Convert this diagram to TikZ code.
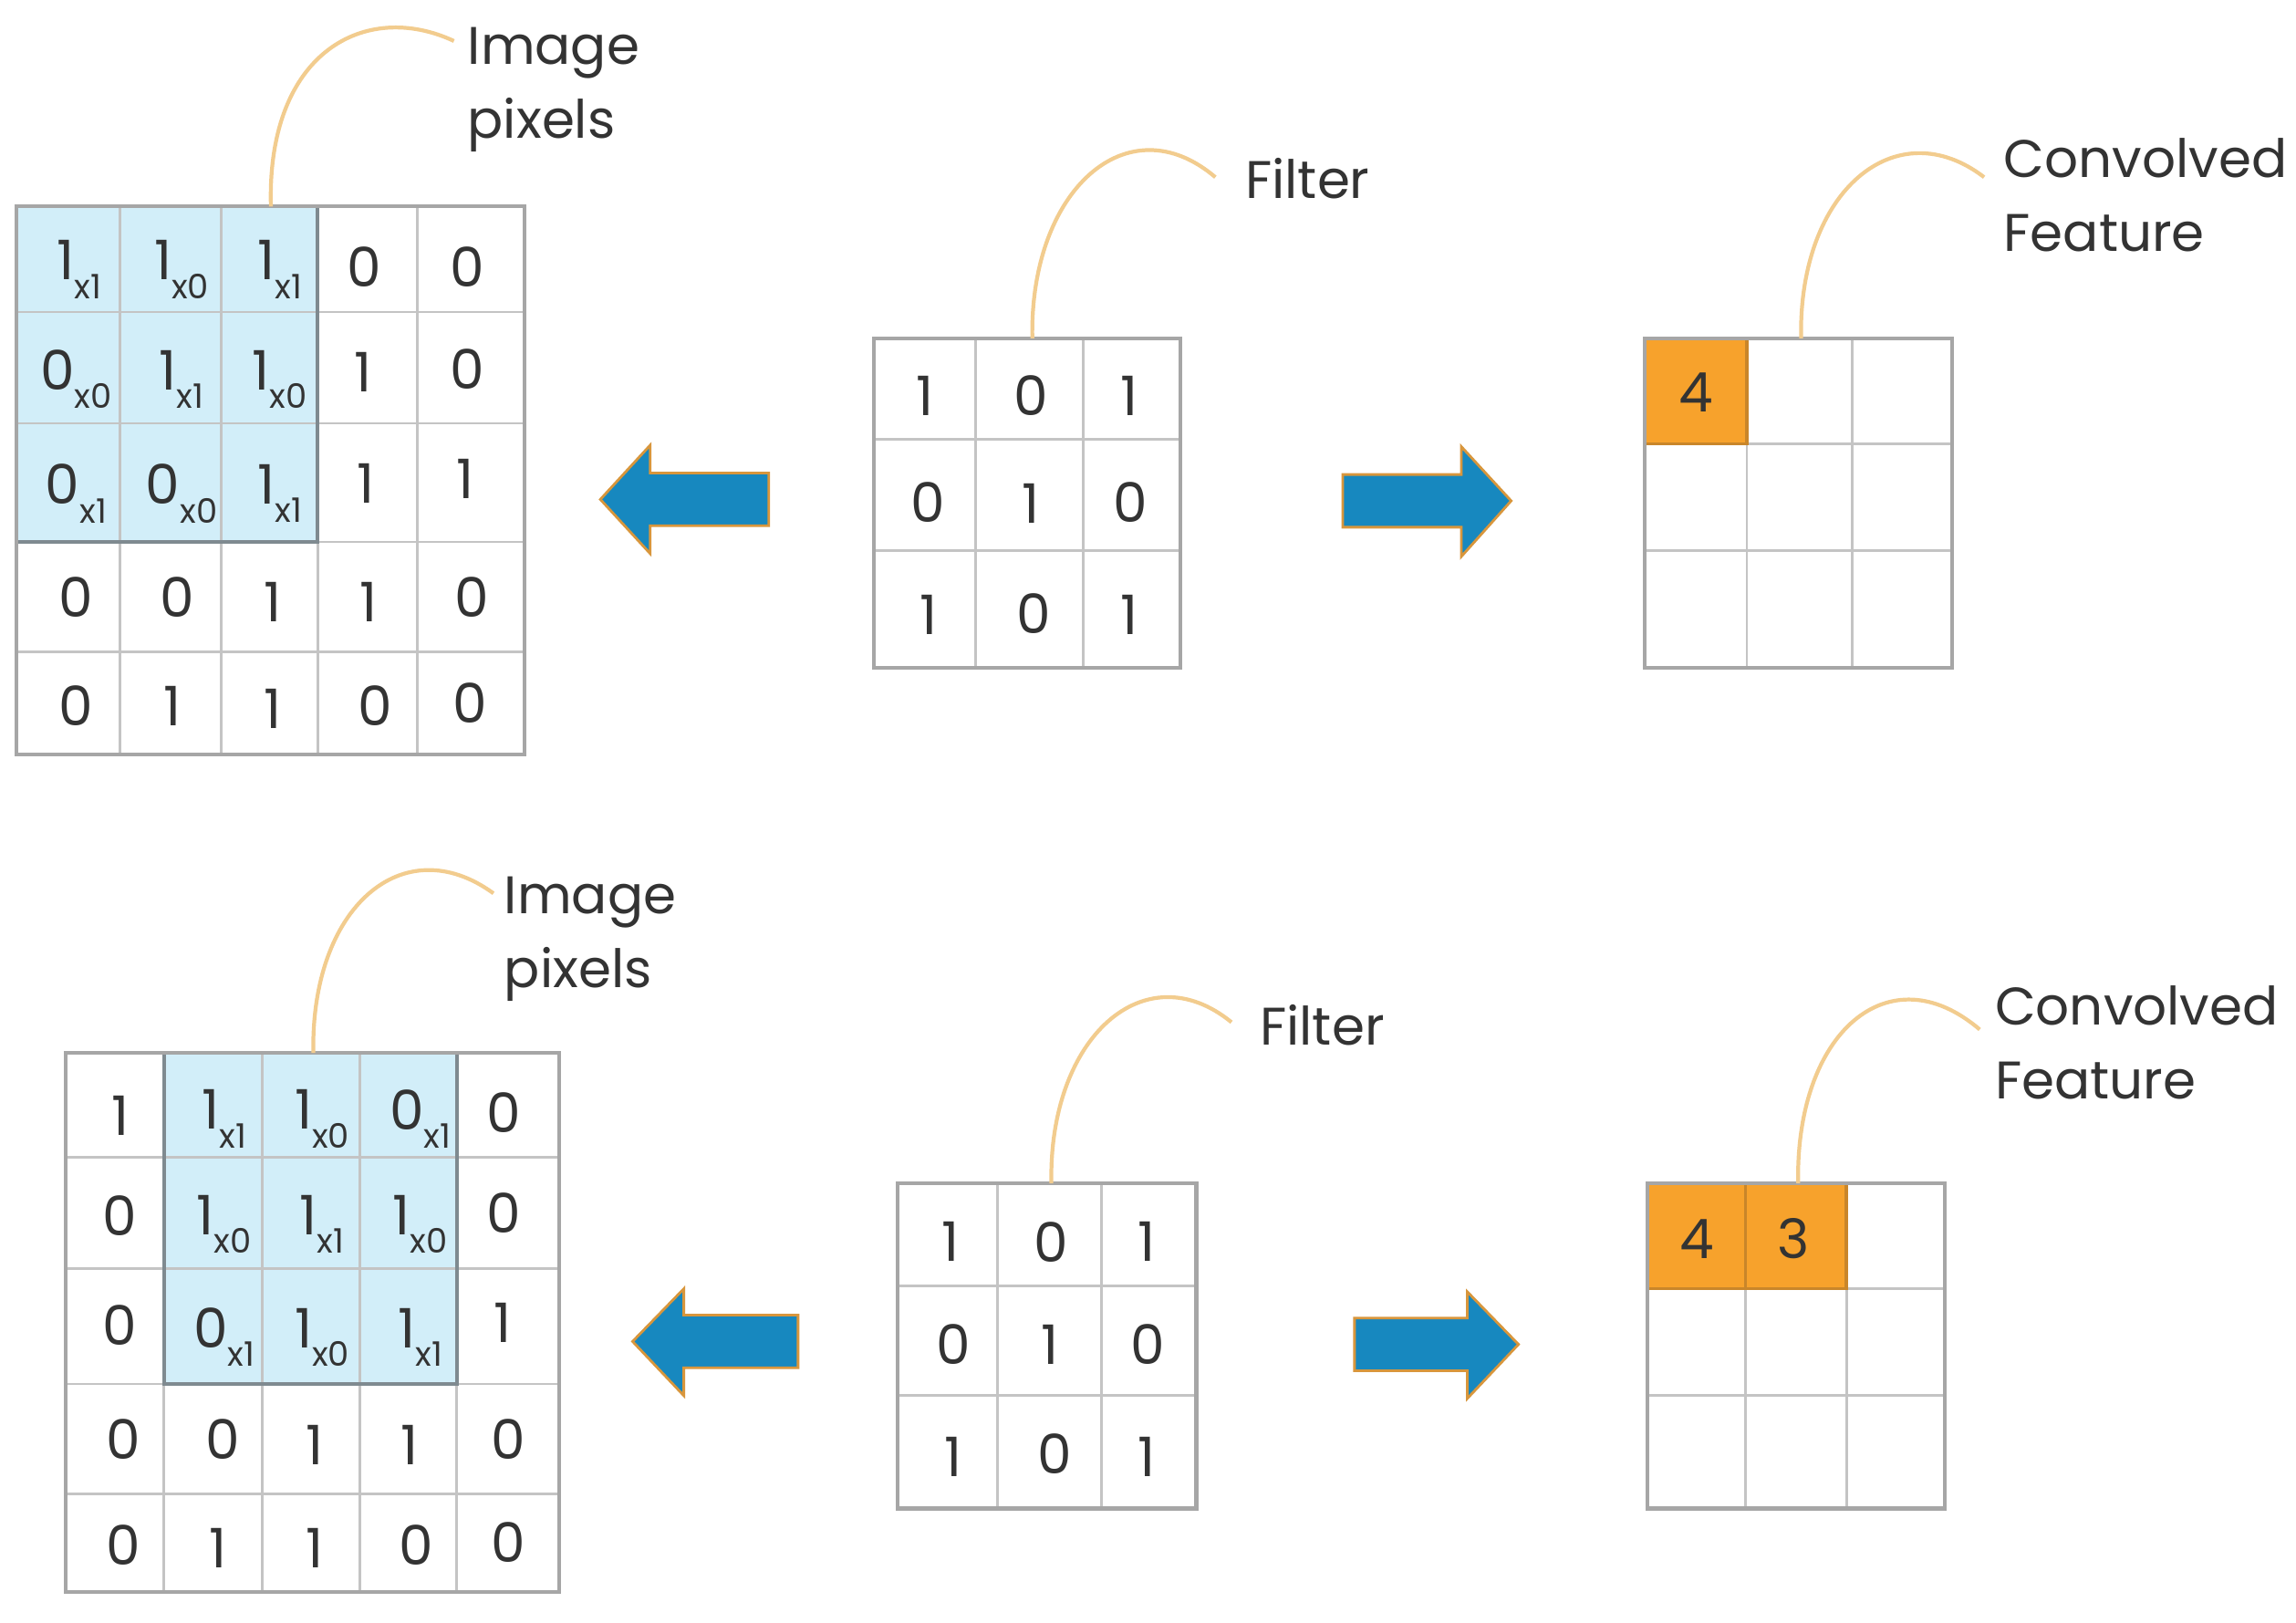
\documentclass[tikz,border=0pt]{standalone}
\usepackage{fontspec}
\setmainfont{Poppins}
\usetikzlibrary{fit}
\definecolor{txt}{HTML}{333333}
\definecolor{gridc}{HTML}{C4C4C4}
\definecolor{framec}{HTML}{A6A6A6}
\definecolor{hl}{HTML}{D2EEF9}
\definecolor{hlb}{HTML}{7F8A90}
\definecolor{org}{HTML}{F7A22C}
\definecolor{orgb}{HTML}{C9862A}
\definecolor{arrblue}{HTML}{1788BF}
\definecolor{arredge}{HTML}{D8963C}
\definecolor{lead}{HTML}{F2CC8E}
\newcommand\sbx[1]{\raisebox{-0.62ex}{\fontsize{10.5}{10.5}\selectfont #1}}
\tikzset{
  ct/.style={font=\fontsize{17}{17}\selectfont, text=txt, inner sep=0pt},
  lbl/.style={font=\fontsize{16.5}{23}\selectfont, text=txt, align=left, anchor=west, inner sep=0pt},
  gline/.style={draw=gridc, line width=0.8pt},
  gframe/.style={draw=framec, line width=1.2pt, inner sep=0pt},
  hlframe/.style={draw=hlb, line width=1.1pt},
  leader/.style={draw=lead, line width=1.2pt},
  bigarrow/.style={fill=arrblue, draw=arredge, line width=0.8pt, line join=miter},
}
\begin{document}
\begin{tikzpicture}[x=0.01605cm,y=-0.01605cm]
\useasboundingbox (0,0) rectangle (1568,1108);
\fill[white] (0,0) rectangle (1568,1108);

%%%%%%%%%%%%%%%% TOP ROW %%%%%%%%%%%%%%%%
% image grid 1
\fill[hl] (11,141) rectangle (217,370);
\foreach \x in {82,151,217,285} \draw[gline] (\x,141) -- (\x,515);
\foreach \y in {213,289,370,445} \draw[gline] (11,\y) -- (358,\y);
\draw[hlframe] (11,141) rectangle (217,370);
\coordinate (g1nw) at (11,141); \coordinate (g1se) at (358,515);
\node[gframe, fit=(g1nw)(g1se)] (g1) {};
% values
\node[ct] (a11) at (54,184) {1\sbx{x1}};
\node[ct] (a12) at (124,184) {1\sbx{x0}};
\node[ct] (a13) at (191,184) {1\sbx{x1}};
\node[ct] (a14) at (249,182) {0};
\node[ct] (a15) at (319,182) {0};
\node[ct] (a21) at (52,259) {0\sbx{x0}};
\node[ct] (a22) at (124,259) {1\sbx{x1}};
\node[ct] (a23) at (191,259) {1\sbx{x0}};
\node[ct] (a24) at (248,254) {1};
\node[ct] (a25) at (319,252) {0};
\node[ct] (a31) at (52,337) {0\sbx{x1}};
\node[ct] (a32) at (124,337) {0\sbx{x0}};
\node[ct] (a33) at (191,337) {1\sbx{x1}};
\node[ct] (a34) at (250,330) {1};
\node[ct] (a35) at (318,327) {1};
\node[ct] (a41) at (52,408) {0};
\node[ct] (a42) at (121,408) {0};
\node[ct] (a43) at (186,411) {1};
\node[ct] (a44) at (252,411) {1};
\node[ct] (a45) at (322,408) {0};
\node[ct] (a51) at (52,482) {0};
\node[ct] (a52) at (118,482) {1};
\node[ct] (a53) at (186,484) {1};
\node[ct] (a54) at (256,482) {0};
\node[ct] (a55) at (321,480) {0};
% label
\node[lbl] (l1) at (319,61) {Image\\pixels};
\coordinate (c1a) at (185,141);
\coordinate (c1b) at (310,28);
\draw[leader] (c1a) .. controls (182,35) and (250,0) .. (c1b);

% left arrow 1
\draw[bigarrow] (410,341) -- (444,304) -- (444,323) -- (525,323) -- (525,359) -- (444,359) -- (444,378) -- cycle;

% filter 1
\foreach \x in {666,740} \draw[gline] (\x,231) -- (\x,456);
\foreach \y in {300,376} \draw[gline] (597,\y) -- (806,\y);
\coordinate (f1nw) at (597,231); \coordinate (f1se) at (806,456);
\node[gframe, fit=(f1nw)(f1se)] (f1) {};
\node[ct] (b11) at (632,270) {1};
\node[ct] (b12) at (704,270) {0};
\node[ct] (b13) at (771,270) {1};
\node[ct] (b21) at (634,343) {0};
\node[ct] (b22) at (704,344) {1};
\node[ct] (b23) at (772,343) {0};
\node[ct] (b31) at (634,420) {1};
\node[ct] (b32) at (706,419) {0};
\node[ct] (b33) at (771,420) {1};
\node[lbl] (l2) at (850,122) {Filter};
\coordinate (c2a) at (705,231);
\coordinate (c2b) at (830,121);
\draw[leader] (c2a) .. controls (703,130) and (770,70) .. (c2b);

% right arrow 1
\draw[bigarrow] (1032,342) -- (998,305) -- (998,324) -- (917,324) -- (917,360) -- (998,360) -- (998,380) -- cycle;

% convolved 1
\fill[org] (1123,231) rectangle (1193,303);
\foreach \x in {1193,1265} \draw[gline] (\x,231) -- (\x,456);
\foreach \y in {303,376} \draw[gline] (1123,\y) -- (1333,\y);
\draw[draw=orgb, line width=1pt] (1123,231) rectangle (1193,303);
\coordinate (k1nw) at (1123,231); \coordinate (k1se) at (1333,456);
\node[gframe, fit=(k1nw)(k1se)] (k1) {};
\node[ct] (d11) at (1158,268) {4};
\node[lbl] (l3) at (1368,133) {Convolved\\Feature};
\coordinate (c3a) at (1230,231);
\coordinate (c3b) at (1355,121);
\draw[leader] (c3a) .. controls (1228,130) and (1295,75) .. (c3b);

%%%%%%%%%%%%%%%% BOTTOM ROW %%%%%%%%%%%%%%%%
% image grid 2
\fill[hl] (112,719) rectangle (312,945);
\foreach \x in {112,179,246,312} \draw[gline] (\x,719) -- (\x,1087);
\foreach \y in {790,866,945,1020} \draw[gline] (45,\y) -- (382,\y);
\draw[hlframe] (112,719) rectangle (312,945);
\coordinate (g2nw) at (45,719); \coordinate (g2se) at (382,1087);
\node[gframe, fit=(g2nw)(g2se)] (g2) {};
\node[ct] (e11) at (82,762) {1};
\node[ct] (e12) at (153,764) {1\sbx{x1}};
\node[ct] (e13) at (220,764) {1\sbx{x0}};
\node[ct] (e14) at (287,764) {0\sbx{x1}};
\node[ct] (e15) at (344,760) {0};
\node[ct] (e21) at (82,830) {0};
\node[ct] (e22) at (153,836) {1\sbx{x0}};
\node[ct] (e23) at (220,836) {1\sbx{x1}};
\node[ct] (e24) at (287,836) {1\sbx{x0}};
\node[ct] (e25) at (344,828) {0};
\node[ct] (e31) at (82,905) {0};
\node[ct] (e32) at (153,913) {0\sbx{x1}};
\node[ct] (e33) at (220,913) {1\sbx{x0}};
\node[ct] (e34) at (287,913) {1\sbx{x1}};
\node[ct] (e35) at (343,903) {1};
\node[ct] (e41) at (84,983) {0};
\node[ct] (e42) at (152,983) {0};
\node[ct] (e43) at (215,987) {1};
\node[ct] (e44) at (280,987) {1};
\node[ct] (e45) at (347,983) {0};
\node[ct] (e51) at (84,1055) {0};
\node[ct] (e52) at (149,1057) {1};
\node[ct] (e53) at (215,1057) {1};
\node[ct] (e54) at (284,1055) {0};
\node[ct] (e55) at (347,1053) {0};
\node[lbl] (l4) at (344,641) {Image\\pixels};
\coordinate (c4a) at (214,719);
\coordinate (c4b) at (337,610);
\draw[leader] (c4a) .. controls (212,620) and (275,565) .. (c4b);

% left arrow 2
\draw[bigarrow] (432,916) -- (467,880) -- (467,898) -- (545,898) -- (545,934) -- (467,934) -- (467,953) -- cycle;

% filter 2
\foreach \x in {681,752} \draw[gline] (\x,808) -- (\x,1030);
\foreach \y in {878,953} \draw[gline] (613,\y) -- (817,\y);
\coordinate (f2nw) at (613,808); \coordinate (f2se) at (817,1030);
\node[gframe, fit=(f2nw)(f2se)] (f2) {};
\node[ct] (h11) at (649,848) {1};
\node[ct] (h12) at (718,848) {0};
\node[ct] (h13) at (783,848) {1};
\node[ct] (h21) at (651,918) {0};
\node[ct] (h22) at (717,918) {1};
\node[ct] (h23) at (784,918) {0};
\node[ct] (h31) at (651,995) {1};
\node[ct] (h32) at (720,993) {0};
\node[ct] (h33) at (783,995) {1};
\node[lbl] (l5) at (860,700) {Filter};
\coordinate (c5a) at (718,808);
\coordinate (c5b) at (841,698);
\draw[leader] (c5a) .. controls (716,708) and (782,650) .. (c5b);

% right arrow 2
\draw[bigarrow] (1037,918) -- (1002,882) -- (1002,900) -- (925,900) -- (925,936) -- (1002,936) -- (1002,955) -- cycle;

% convolved 2
\fill[org] (1125,808) rectangle (1261,880);
\foreach \x in {1192,1261} \draw[gline] (\x,808) -- (\x,1030);
\foreach \y in {880,953} \draw[gline] (1125,\y) -- (1328,\y);
\draw[draw=orgb, line width=1pt] (1125,808) rectangle (1261,880);
\draw[draw=orgb, line width=1pt] (1192,808) -- (1192,880);
\coordinate (k2nw) at (1125,808); \coordinate (k2se) at (1328,1030);
\node[gframe, fit=(k2nw)(k2se)] (k2) {};
\node[ct] (m11) at (1159,846) {4};
\node[ct] (m12) at (1225,846) {3};
\node[lbl] (l6) at (1362,712) {Convolved\\Feature};
\coordinate (c6a) at (1228,808);
\coordinate (c6b) at (1352,703);
\draw[leader] (c6a) .. controls (1226,705) and (1290,650) .. (c6b);
\end{tikzpicture}
\end{document}
